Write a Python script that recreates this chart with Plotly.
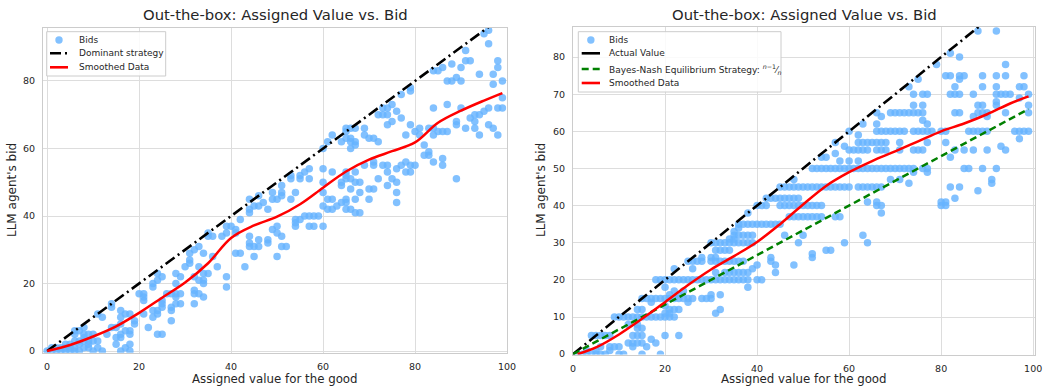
import plotly.graph_objects as go

# ---------------- data ----------------
# Left panel: (assigned value, bid) pairs
left_pts = [
    (0, 0), (1, 0), (2, 0), (1, 1), (2, 1), (3, 0), (3, 1), (4, 0), (4, 1), (4, 2), (5, 0), (5, 1), (5, 2),
    (6, 0), (6, 1), (6, 3), (6, 5), (6, 6), (7, 0), (7, 2), (7, 3), (7, 6), (8, 1), (8, 3), (8, 4), (8, 5),
    (8, 7), (9, 1), (9, 2), (9, 3), (9, 5), (10, 0), (10, 3), (10, 5),
    (11, 1), (11, 3), (11, 11), (12, 0), (12, 10), (13, 5), (14, 7), (14, 13), (14, 14), (15, 2), (15, 4),
    (15, 7), (16, 0), (16, 4), (16, 5), (16, 8), (16, 10), (16, 12), (17, 1), (17, 6), (17, 11), (18, 0),
    (18, 2), (18, 5), (18, 6), (18, 11), (19, 8), (19, 9),
    (20, 17), (21, 11), (21, 15), (21, 16), (21, 17), (22, 7), (23, 10), (23, 12), (23, 19), (23, 20),
    (24, 5), (24, 11), (24, 12), (24, 21), (24, 23), (25, 5), (25, 13), (25, 14), (25, 15), (25, 22),
    (26, 17), (27, 9), (27, 12), (27, 13), (27, 17), (28, 14), (28, 16), (28, 17), (28, 20), (28, 23),
    (29, 14), (29, 17), (29, 22), (30, 25),
    (31, 26), (31, 27), (31, 29), (32, 14), (32, 17), (32, 18), (32, 22), (32, 30), (33, 17), (33, 21),
    (33, 25), (33, 31), (34, 16), (34, 20), (34, 21), (34, 23), (34, 29), (35, 23), (35, 34), (35, 35),
    (36, 28), (36, 34), (37, 25), (38, 34), (39, 19), (39, 22), (39, 35), (39, 37), (40, 37), (41, 29),
    (41, 35), (41, 36), (42, 29), (42, 39), (43, 25),
    (44, 31), (44, 32), (44, 34), (44, 41), (44, 42), (44, 45), (45, 28), (45, 31), (45, 43), (46, 31),
    (46, 33), (46, 43), (46, 46), (47, 44), (48, 32), (48, 33), (48, 42), (49, 36), (49, 45), (49, 47),
    (50, 28), (50, 35), (50, 37), (50, 45), (51, 31), (51, 34), (51, 46), (51, 47), (51, 49), (52, 31),
    (53, 45), (53, 51), (53, 52), (54, 37), (54, 38), (54, 39), (54, 47),
    (55, 39), (55, 51), (55, 52), (56, 40), (56, 53), (57, 37), (57, 40), (57, 51), (57, 54), (58, 37),
    (58, 40), (59, 40), (60, 37), (60, 43), (60, 47), (60, 50), (60, 54), (60, 60), (61, 42), (61, 45),
    (61, 62), (62, 42), (62, 45), (62, 53), (62, 64), (63, 43), (64, 44), (64, 50), (65, 42), (65, 45),
    (65, 52), (65, 53), (65, 65), (65, 66), (66, 51), (66, 63), (66, 66), (67, 41), (67, 45), (67, 50),
    (67, 62), (67, 66), (68, 47),
    (64, 62), (66, 62), (65, 63), (67, 61), (66, 60), (65, 51), (64, 49), (66, 48), (68, 50), (65, 44),
    (66, 42), (68, 41), (70, 48), (70, 45), (71, 48), (72, 51), (67, 53), (69, 55), (69, 66), (69, 64),
    (70, 63), (71, 63), (72, 62), (71, 56), (71, 55), (73, 55), (74, 55), (76, 54), (77, 55), (78, 56),
    (79, 55), (80, 55),
    (72, 70), (73, 70), (73, 72), (74, 72), (74, 70), (75, 73), (74, 67), (75, 68), (76, 71), (77, 69),
    (79, 67), (77, 76), (79, 77), (79, 78), (78, 64), (80, 65), (81, 64), (81, 66), (74, 53), (75, 51),
    (76, 50), (74, 49), (76, 47), (76, 44), (78, 53), (79, 53),
    (82, 58), (82, 61), (83, 58), (83, 59), (84, 56), (84, 64), (84, 66), (84, 72), (85, 65), (83, 66),
    (86, 55), (86, 57), (89, 51), (84, 83), (85, 83), (86, 84), (87, 80), (88, 80), (89, 81), (90, 80),
    (88, 85), (90, 84), (91, 86), (92, 86), (91, 89), (94, 82), (95, 94), (96, 95), (96, 91), (97, 82),
    (98, 86), (98, 84), (99, 80), (97, 79),
    (87, 73), (87, 65), (86, 65), (89, 67), (89, 68), (90, 72), (91, 66), (92, 69), (93, 70), (93, 68),
    (93, 66), (94, 64), (94, 70), (95, 71), (96, 72), (96, 67), (97, 66), (98, 64), (98, 72), (99, 72),
    (99, 75),
]

# Right panel: bids grouped by bid level -> assigned values that produced it
right_rows = [
    (0, [1, 2, 3, 4, 5, 6, 7, 10, 11, 15, 19]),
    (1, [3, 5, 8]),
    (2, [6, 8, 9, 10, 13, 16]),
    (3, [12, 13, 14, 15, 18]),
    (4, [17]),
    (5, [4, 5, 6, 7, 8, 13, 14, 15, 20, 23]),
    (7, [14, 15]),
    (8, [12, 14]),
    (10, [9, 10, 11, 12, 13, 14, 15, 16, 17, 18, 19, 20, 21, 22]),
    (11, [20, 21, 31]),
    (12, [14, 15, 21, 22, 23, 32]),
    (13, [20]),
    (14, [17, 25]),
    (15, [15, 16, 17, 18, 19, 20, 21, 22, 23, 24, 25, 26, 28, 29, 30]),
    (16, [21, 23, 30, 32]),
    (17, [22, 24]),
    (18, [20, 38]),
    (20, [18, 19, 20, 21, 22, 23, 24, 25, 26, 27, 28, 29, 30, 31, 32, 33, 34, 35, 36, 37, 38, 40, 41]),
    (22, [31, 33, 34, 35, 36, 37, 38, 44]),
    (23, [22, 26, 39]),
    (24, [40, 44, 48]),
    (25, [25, 26, 27, 28, 30, 31, 32, 33, 34, 35, 36, 37, 43]),
    (26, [28, 30, 31, 43, 52]),
    (27, [52]),
    (28, [31, 32, 33, 34, 55, 56]),
    (30, [30, 31, 32, 33, 34, 35, 36, 37, 38, 39, 49, 59, 64]),
    (31, [34, 35]),
    (32, [35, 36, 37, 38, 39, 46, 50, 63]),
    (33, [35]),
    (34, [36]),
    (35, [36, 37, 38, 39, 40, 41, 42, 43, 44, 45]),
    (37, [47, 48, 49, 50, 51, 52, 53, 54, 57, 58]),
    (38, [38, 67]),
    (40, [40, 41, 42, 45, 46, 47, 48, 49, 50, 51, 52, 53, 54, 66, 67, 80, 81]),
    (41, [64, 66, 80, 81]),
    (42, [42, 43, 44, 45, 46, 47, 48, 49, 83]),
    (44, [88]),
    (45, [45, 46, 47, 48, 49, 50, 51, 52, 53, 54, 55, 56, 57, 58, 59, 60, 62, 63, 64, 65, 66, 67, 82, 84]),
    (46, [73, 91]),
    (47, [48, 69, 71, 91]),
    (49, [74, 77]),
    (50, [52, 53, 54, 55, 56, 57, 58, 59, 60, 61, 62, 63, 64, 65, 66, 67, 68, 69, 70, 71, 72, 73, 74,
          76, 77, 85, 86, 89, 92]),
    (52, [58, 60, 62]),
    (53, [54, 55, 82]),
    (54, [57]),
    (55, [60, 61, 62, 63, 64, 66, 67, 68, 71, 74, 75, 76, 83, 85, 87, 90, 94]),
    (56, [59, 93]),
    (57, [57, 62, 63, 64, 65, 66, 67, 68, 71, 77, 81]),
    (58, [97]),
    (59, [62]),
    (60, [60, 66, 67, 68, 69, 70, 71, 72, 74, 75, 76, 77, 78, 80, 81, 86, 87, 88, 89, 90, 96, 97, 98, 99]),
    (62, [63, 66, 77]),
    (63, [76]),
    (64, [67, 87, 90]),
    (65, [66, 69, 70, 71, 72, 73, 74, 75, 76, 83, 84, 88, 89, 90, 94, 99]),
    (67, [74, 76, 88, 89, 92, 99]),
    (68, [92]),
    (69, [97]),
    (70, [74, 76, 77, 82, 83, 84, 87, 92, 93, 94, 95, 99]),
    (72, [73, 83, 89, 92, 97, 98]),
    (74, [75, 84]),
    (75, [81, 82, 84, 85, 89, 92, 94, 98]),
    (78, [79, 94]),
    (80, [84]),
    (81, [82]),
    (87, [88, 92]),
]

# Smoothed trend of the bids
left_smooth_x = [0, 5, 10, 15, 20, 25, 30, 35, 40, 45, 50, 55, 60, 65, 70, 75, 80, 85, 90, 95, 99]
left_smooth_y = [0, 1.8, 4.3, 7.3, 11.3, 15.8, 20.3, 26.0, 33.5, 37.2, 39.8, 43.5, 48.4, 53.2, 56.7,
                 59.2, 61.8, 67.6, 71.2, 74.2, 76.4]
right_smooth_x = [1, 5, 10, 15, 20, 25, 30, 35, 40, 45, 50, 55, 60, 65, 70, 75, 80, 85, 90, 95, 99]
right_smooth_y = [0, 1.8, 5.3, 9.5, 14.0, 18.6, 22.8, 26.4, 30.2, 35.0, 40.3, 45.3, 49.0, 52.0, 54.6,
                  57.3, 60.0, 62.1, 64.6, 67.5, 69.4]

# Reference lines: bid = value, and the Bayes-Nash bid (n-1)/n * value with n = 3
truth_x = [0, 100]
truth_y = [0, 100]
bne_x = [0, 99]
bne_y = [0, 66]

left_x = [p[0] for p in left_pts]
left_y = [p[1] for p in left_pts]
right_x = [v for b, vals in right_rows for v in vals]
right_y = [b for b, vals in right_rows for v in vals]

# ---------------- styling ----------------
W, H = 1047, 387
PT_COLOR = "rgba(102,179,255,0.82)"
TXT = "#262626"
GRID = "#dddddd"
FONT = "DejaVu Sans"
DASHDOT = "11px,4px,2px,4px"
DASHED = "7px,4px"

fig = go.Figure()

# left panel
fig.add_trace(go.Scatter(x=left_x, y=left_y, mode="markers", name="Bids",
                         marker=dict(color=PT_COLOR, size=7.5, line=dict(width=0)),
                         xaxis="x", yaxis="y"))
fig.add_trace(go.Scatter(x=truth_x, y=truth_y, mode="lines", name="Dominant strategy",
                         line=dict(color="black", width=2.6, dash=DASHDOT),
                         xaxis="x", yaxis="y"))
fig.add_trace(go.Scatter(x=left_smooth_x, y=left_smooth_y, mode="lines", name="Smoothed Data",
                         line=dict(color="red", width=2.5, shape="spline"),
                         xaxis="x", yaxis="y"))

# right panel
fig.add_trace(go.Scatter(x=right_x, y=right_y, mode="markers", name="Bids",
                         marker=dict(color=PT_COLOR, size=7.5, line=dict(width=0)),
                         xaxis="x2", yaxis="y2"))
fig.add_trace(go.Scatter(x=truth_x, y=truth_y, mode="lines", name="Actual Value",
                         line=dict(color="black", width=2.6, dash=DASHDOT),
                         xaxis="x2", yaxis="y2"))
fig.add_trace(go.Scatter(x=bne_x, y=bne_y, mode="lines", name="Bayes-Nash Equilibrium Strategy",
                         line=dict(color="green", width=2.5, dash=DASHED),
                         xaxis="x2", yaxis="y2"))
fig.add_trace(go.Scatter(x=right_smooth_x, y=right_smooth_y, mode="lines", name="Smoothed Data",
                         line=dict(color="red", width=2.5, shape="spline"),
                         xaxis="x2", yaxis="y2"))

axis_common = dict(showgrid=True, gridcolor=GRID, gridwidth=1, zeroline=False, automargin=False,
                   showline=True, linecolor="#cccccc", linewidth=1, mirror=True,
                   ticks="", tickfont=dict(family=FONT, size=9.5, color=TXT))

fig.update_layout(
    width=W, height=H,
    margin=dict(l=0, r=0, t=0, b=0, autoexpand=False),
    paper_bgcolor="white", plot_bgcolor="white",
    font=dict(family=FONT, color=TXT),
    showlegend=False,
    xaxis=dict(domain=[43 / W, 507 / W], range=[-0.9, 100], dtick=20, anchor="y",
               ticklabelstandoff=5, **axis_common),
    yaxis=dict(domain=[1 - 352.7 / H, 1 - 28 / H], range=[-0.5, 95.7], dtick=20, anchor="x",
               ticklabelstandoff=5, **axis_common),
    xaxis2=dict(domain=[573 / W, 1035 / W], range=[0, 100.4], dtick=20, anchor="y2",
                ticklabelstandoff=5, **axis_common),
    yaxis2=dict(domain=[1 - 354.5 / H, 1 - 27 / H], range=[-0.1, 88.1], dtick=10, anchor="x2",
                ticklabelstandoff=5, **axis_common),
)


def px(x):
    return x / W


def py(y):
    return 1 - y / H


shapes = []
annotations = []

# titles and axis labels
title_txt = "Out-the-box: Assigned Value vs. Bid"
for cx, ylab_x in [((43 + 507) / 2, 12), ((573 + 1035) / 2, 541)]:
    annotations.append(dict(text=title_txt, x=px(cx), y=py(15), xref="paper", yref="paper",
                            showarrow=False, xanchor="center", yanchor="middle",
                            font=dict(family=FONT, size=14.8, color=TXT)))
    annotations.append(dict(text="Assigned value for the good", x=px(cx), y=py(379),
                            xref="paper", yref="paper", showarrow=False,
                            xanchor="center", yanchor="middle",
                            font=dict(family=FONT, size=11.8, color=TXT)))
    annotations.append(dict(text="LLM agent's bid", x=px(ylab_x), y=py(190),
                            xref="paper", yref="paper", showarrow=False, textangle=-90,
                            xanchor="center", yanchor="middle",
                            font=dict(family=FONT, size=12, color=TXT)))


# legend boxes: (box left, top, right, bottom, handle x0, handle x1, text x, rows)
def legend_box(x0, y0, x1, y1, hx0, hx1, tx, rows):
    shapes.append(dict(type="rect", xref="paper", yref="paper",
                       x0=px(x0), x1=px(x1), y0=py(y1), y1=py(y0),
                       line=dict(color="#cccccc", width=1), fillcolor="rgba(255,255,255,0.85)",
                       layer="above"))
    for yrow, kind, color, dash, label in rows:
        if kind == "marker":
            r = 3.7
            cxm = (hx0 + hx1) / 2
            shapes.append(dict(type="circle", xref="paper", yref="paper",
                               x0=px(cxm - r), x1=px(cxm + r), y0=py(yrow + r), y1=py(yrow - r),
                               line=dict(width=0), fillcolor=color, layer="above"))
        else:
            shapes.append(dict(type="line", xref="paper", yref="paper",
                               x0=px(hx0), x1=px(hx1), y0=py(yrow), y1=py(yrow),
                               line=dict(color=color, width=2.6, dash=dash), layer="above"))
        annotations.append(dict(text=label, x=px(tx), y=py(yrow), xref="paper", yref="paper",
                                showarrow=False, xanchor="left", yanchor="middle",
                                font=dict(family=FONT, size=9, color=TXT)))


legend_box(46.7, 31.7, 165.7, 76, 50, 68, 76.7, [
    (40, "marker", PT_COLOR, None, "Bids"),
    (53.3, "line", "black", DASHDOT, "Dominant strategy"),
    (67.3, "line", "red", "solid", "Smoothed Data"),
])
legend_box(578.3, 31.7, 781, 92, 581.7, 600, 607.3, [
    (40, "marker", PT_COLOR, None, "Bids"),
    (53.3, "line", "black", "solid", "Actual Value"),
    (69, "line", "green", DASHED,
     "Bayes-Nash Equilibrium Strategy: <sup><i>n</i>−1</sup>⁄<sub><i>n</i></sub>"),
    (83, "line", "red", "solid", "Smoothed Data"),
])

fig.update_layout(shapes=shapes, annotations=annotations)

fig.write_html("out.html")
